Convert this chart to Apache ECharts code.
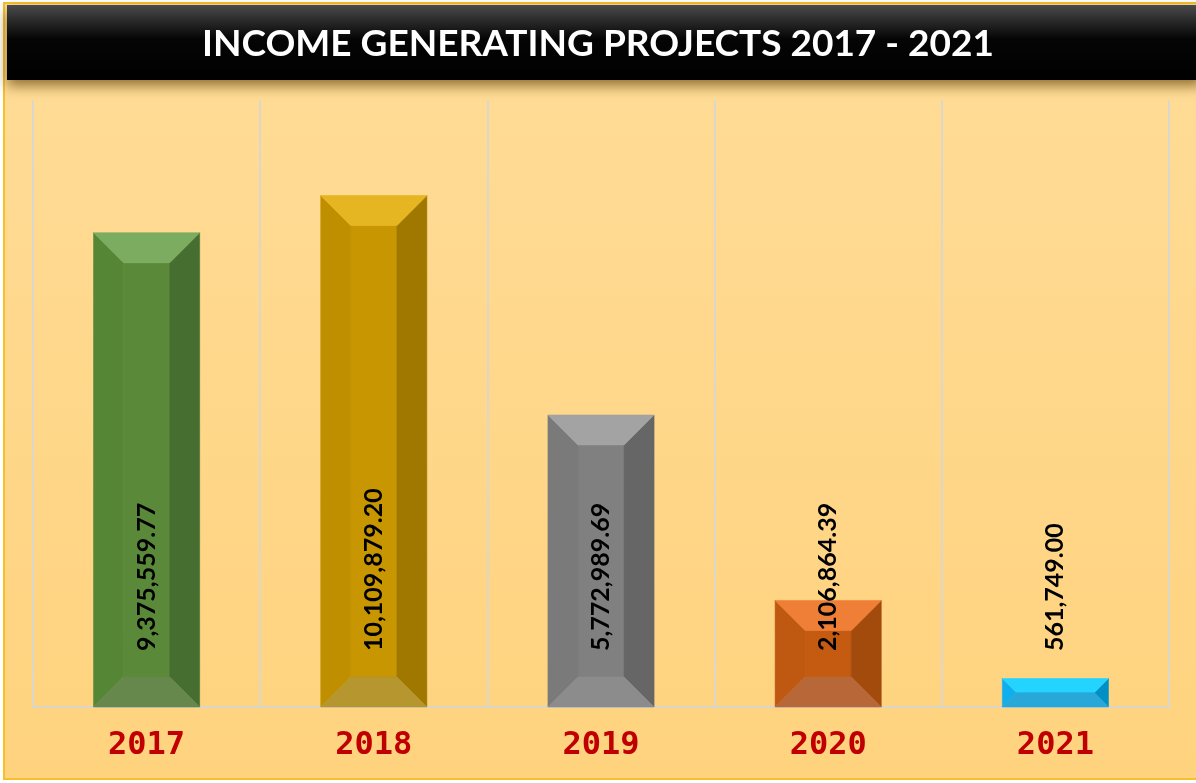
<!DOCTYPE html>
<html>
<head>
<meta charset="utf-8">
<title>Income Generating Projects 2017 - 2021</title>
<script src="https://cdn.jsdelivr.net/npm/echarts@6/dist/echarts.min.js"></script>
<style>
  html, body { margin: 0; padding: 0; background: #ffffff; }
  #chart { width: 1196px; height: 783px; }
</style>
</head>
<body>
<div id="chart"></div>
<script>
// chart data
const years = ['2017', '2018', '2019', '2020', '2021'];
const income = [9375559.77, 10109879.20, 5772989.69, 2106864.39, 561749.00];
const yMax = 12000000;

// bevel shades per bar: [center, left, right, top, bottom]
const shades = [
    ['#5a8a39', '#558636', '#466e30', '#7bac5f', '#66884c'],
    ['#c89600', '#c08f00', '#a07800', '#e6b622', '#b6962e'],
    ['#808080', '#7a7a7a', '#666666', '#a3a3a3', '#8c8c8c'],
    ['#c55a11', '#bf5810', '#a34a0d', '#ef7e36', '#b86838'],
    ['#10b8f4', '#0eaeef', '#0090c6', '#22d4ff', '#28a8d8'],
];

const fmt = (v) => v.toLocaleString('en-US', { minimumFractionDigits: 2, maximumFractionDigits: 2 });

let chart = echarts.init(document.getElementById('chart'));

const opts = {
    animation: false,
    title: {
        text: 'INCOME GENERATING PROJECTS 2017 - 2021',
        left: 'center',
        top: 21,
        z: 10,
        textStyle: {
            color: '#ffffff',
            fontFamily: 'Lato, sans-serif',
            fontWeight: 'bold',
            fontSize: 37,
        },
    },
    graphic: [
        {
            // outer frame
            type: 'rect',
            z: -10,
            shape: { x: 4, y: 3, width: 1200, height: 776 },
            style: {
                fill: new echarts.graphic.LinearGradient(0, 0, 0, 1, [
                    { offset: 0, color: '#ffdc98' },
                    { offset: 1, color: '#ffd37e' },
                ]),
                stroke: '#f5c02a',
                lineWidth: 2,
            },
        },
        {
            // title bar
            type: 'rect',
            z: -5,
            shape: { x: 7, y: 5, width: 1195, height: 75 },
            style: {
                fill: new echarts.graphic.LinearGradient(0, 0, 0, 1, [
                    { offset: 0, color: '#4a4a4a' },
                    { offset: 0.45, color: '#050505' },
                    { offset: 1, color: '#000000' },
                ]),
                shadowBlur: 12,
                shadowOffsetY: 6,
                shadowColor: 'rgba(90, 60, 0, 0.65)',
            },
        },
    ],
    grid: {
        left: 33,
        right: 27,
        top: 100,
        bottom: 76,
    },
    xAxis: {
        type: 'category',
        data: years,
        axisLine: {
            lineStyle: { color: '#d9d5cc', width: 2 },
        },
        axisTick: { show: false },
        axisLabel: {
            color: '#c00000',
            fontFamily: '"DejaVu Sans Mono", "Liberation Mono", monospace',
            fontWeight: 'bold',
            fontSize: 32,
            margin: 23,
        },
        splitLine: {
            show: true,
            lineStyle: { color: '#dcd7cb', width: 2 },
        },
    },
    yAxis: {
        type: 'value',
        min: 0,
        max: yMax,
        show: false,
    },
    series: [
        {
            type: 'custom',
            data: income.map((v, i) => [i, v]),
            renderItem: function (params, api) {
                const i = params.dataIndex;
                const c = shades[i];
                const top = api.coord([api.value(0), api.value(1)]);
                const base = api.coord([api.value(0), 0]);
                const w = api.size([1, 0])[0] * 0.467;
                const x0 = top[0] - w / 2;
                const x1 = top[0] + w / 2;
                const y0 = top[1];
                const y1 = base[1];
                const b = Math.min(30, (y1 - y0) / 2, w / 2);
                const poly = (pts, fill) => ({
                    type: 'polygon',
                    shape: { points: pts },
                    style: { fill: fill, stroke: fill, lineWidth: 0.6 },
                });
                return {
                    type: 'group',
                    children: [
                        poly([[x0 + b, y0 + b], [x1 - b, y0 + b], [x1 - b, y1 - b], [x0 + b, y1 - b]], c[0]),
                        poly([[x0, y0], [x0 + b, y0 + b], [x0 + b, y1 - b], [x0, y1]], c[1]),
                        poly([[x1, y0], [x1, y1], [x1 - b, y1 - b], [x1 - b, y0 + b]], c[2]),
                        poly([[x0, y0], [x1, y0], [x1 - b, y0 + b], [x0 + b, y0 + b]], c[3]),
                        poly([[x0, y1], [x0 + b, y1 - b], [x1 - b, y1 - b], [x1, y1]], c[4]),
                        {
                            type: 'text',
                            x: top[0],
                            y: y1 - 56,
                            rotation: Math.PI / 2,
                            style: {
                                text: fmt(api.value(1)),
                                fill: '#000000',
                                font: 'bold 25px Lato, sans-serif',
                                align: 'left',
                                verticalAlign: 'middle',
                            },
                        },
                    ],
                };
            },
        },
    ],
};

chart.setOption(opts);
</script>
</body>
</html>
